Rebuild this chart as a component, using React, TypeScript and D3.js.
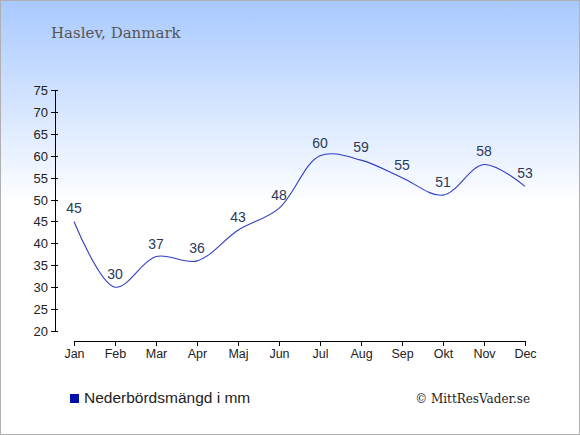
import React, { useEffect, useRef } from 'react';
import * as d3 from 'd3';

const months = ['Jan', 'Feb', 'Mar', 'Apr', 'Maj', 'Jun', 'Jul', 'Aug', 'Sep', 'Okt', 'Nov', 'Dec'];
const precipitation = [45, 30, 37, 36, 43, 48, 60, 59, 55, 51, 58, 53];
const yTicks = [20, 25, 30, 35, 40, 45, 50, 55, 60, 65, 70, 75];

const title = 'Haslev, Danmark';
const legendLabel = 'Nederbördsmängd i mm';
const credit = '© MittResVader.se';

const width = 580;
const height = 435;

export default function App() {
  const svgRef = useRef<SVGSVGElement>(null);

  useEffect(() => {
    document.body.style.margin = '0';
    if (!svgRef.current) return;

    const svg = d3.select(svgRef.current);
    svg.selectAll('*').remove();

    const defs = svg.append('defs');
    const grad = defs
      .append('linearGradient')
      .attr('id', 'bg')
      .attr('x1', 0)
      .attr('y1', 0)
      .attr('x2', 0)
      .attr('y2', 1);
    grad.append('stop').attr('offset', '0%').attr('stop-color', '#a8c9ff');
    grad.append('stop').attr('offset', '47%').attr('stop-color', '#ffffff');
    grad.append('stop').attr('offset', '100%').attr('stop-color', '#ffffff');

    svg
      .append('rect')
      .attr('x', 0.5)
      .attr('y', 0.5)
      .attr('width', width - 1)
      .attr('height', height - 1)
      .attr('fill', 'url(#bg)')
      .attr('stroke', '#b0b0b0');

    const x = d3
      .scalePoint<string>()
      .domain(months)
      .range([74, 525]);

    const y = d3.scaleLinear().domain([20, 75]).range([331, 90]);

    svg
      .append('text')
      .attr('x', 51)
      .attr('y', 38)
      .attr('font-family', 'DejaVu Serif, serif')
      .attr('font-size', 15)
      .attr('fill', '#555')
      .text(title);

    // y axis
    const yAxis = svg.append('g').attr('font-family', 'Liberation Sans, Arial, sans-serif');
    yAxis
      .append('line')
      .attr('x1', 55.5)
      .attr('x2', 55.5)
      .attr('y1', y(75))
      .attr('y2', y(20) + 1)
      .attr('stroke', '#000');
    yTicks.forEach(t => {
      yAxis
        .append('line')
        .attr('x1', 51)
        .attr('x2', 58)
        .attr('y1', Math.round(y(t)) + 0.5)
        .attr('y2', Math.round(y(t)) + 0.5)
        .attr('stroke', '#000');
      yAxis
        .append('text')
        .attr('x', 48)
        .attr('y', y(t) + 5)
        .attr('text-anchor', 'end')
        .attr('font-size', 13)
        .attr('fill', '#222')
        .text(t);
    });

    // x axis
    const xAxis = svg.append('g').attr('font-family', 'Liberation Sans, Arial, sans-serif');
    xAxis
      .append('line')
      .attr('x1', x('Jan')!)
      .attr('x2', x('Dec')! + 1)
      .attr('y1', 341.5)
      .attr('y2', 341.5)
      .attr('stroke', '#000');
    months.forEach(m => {
      const px = Math.round(x(m)!) + 0.5;
      xAxis
        .append('line')
        .attr('x1', px)
        .attr('x2', px)
        .attr('y1', 341)
        .attr('y2', 346)
        .attr('stroke', '#000');
      xAxis
        .append('text')
        .attr('x', px)
        .attr('y', 358)
        .attr('text-anchor', 'middle')
        .attr('font-size', 12.5)
        .attr('fill', '#222')
        .text(m);
    });

    const line = d3
      .line<number>()
      .x((_d, i) => x(months[i])!)
      .y(d => y(d))
      .curve(d3.curveCatmullRom.alpha(0.5));

    svg
      .append('path')
      .datum(precipitation)
      .attr('d', line)
      .attr('fill', 'none')
      .attr('stroke', '#2e3cc4')
      .attr('stroke-width', 1.1);

    svg
      .append('g')
      .selectAll('text')
      .data(precipitation)
      .enter()
      .append('text')
      .attr('x', (_d, i) => x(months[i])!)
      .attr('y', d => y(d) - 8)
      .attr('text-anchor', 'middle')
      .attr('font-family', 'Liberation Sans, Arial, sans-serif')
      .attr('font-size', 14)
      .attr('fill', '#2a3a5a')
      .text(d => d);

    // legend
    svg
      .append('rect')
      .attr('x', 70)
      .attr('y', 394)
      .attr('width', 9)
      .attr('height', 9)
      .attr('fill', '#0010a8');
    svg
      .append('text')
      .attr('x', 84)
      .attr('y', 403)
      .attr('font-family', 'Liberation Sans, Arial, sans-serif')
      .attr('font-size', 15.5)
      .attr('fill', '#222')
      .text(legendLabel);

    svg
      .append('text')
      .attr('x', 530)
      .attr('y', 403)
      .attr('text-anchor', 'end')
      .attr('font-family', 'DejaVu Serif, serif')
      .attr('font-size', 12)
      .attr('fill', '#222')
      .text(credit);
  }, []);

  return <svg ref={svgRef} width={width} height={height} style={{ display: 'block' }}></svg>;
}
